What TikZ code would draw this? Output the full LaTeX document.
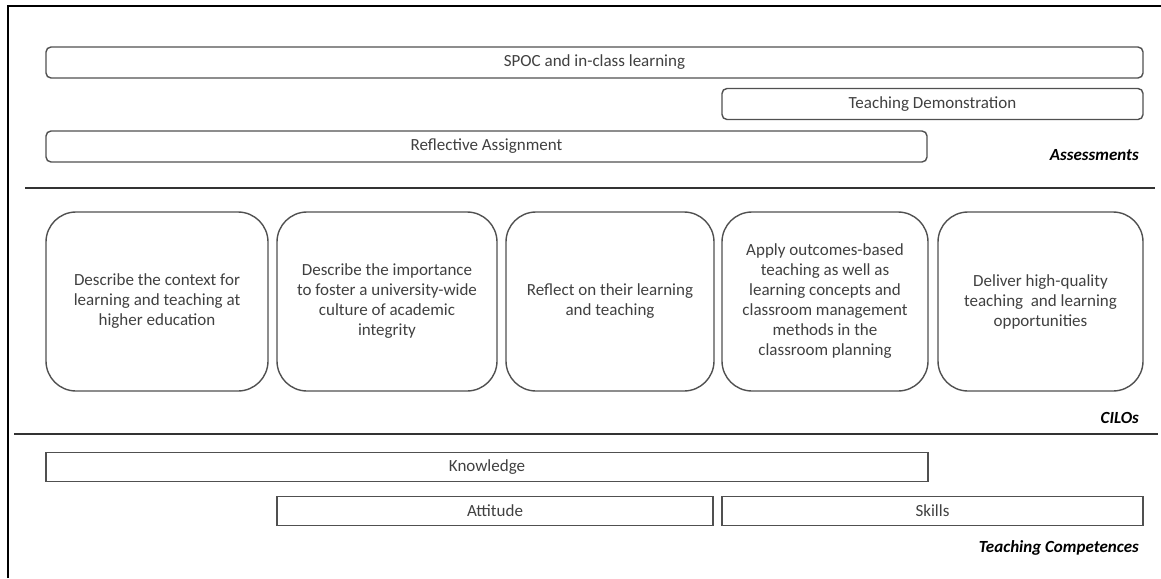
\documentclass[tikz,border=0pt]{standalone}
\usepackage{fontspec}
\setmainfont{Carlito}
\usepackage{tikz}
\usetikzlibrary{positioning}

\definecolor{edgegray}{HTML}{505050}
\definecolor{textgray}{HTML}{404040}

\begin{document}
\begin{tikzpicture}[
  x=1pt, y=-1pt,
  font=\fontsize{17}{20}\selectfont,
  bar/.style={draw=edgegray, line width=1.4pt, rounded corners=5pt, minimum height=31pt, inner sep=0pt, text=textgray},
  flatbar/.style={draw=edgegray, line width=1.4pt, minimum height=29pt, inner sep=0pt, text=textgray},
  cilo/.style={draw=edgegray, line width=1.4pt, rounded corners=30pt, minimum height=179pt, inner sep=0pt, align=center, text=textgray},
  tag/.style={anchor=east, inner sep=0pt, font=\fontsize{17}{20}\selectfont\bfseries\itshape},
  divider/.style={line width=2pt, draw=black!80},
]
\useasboundingbox (0,0) rectangle (1161,578);
% outer frame (only top and left edges fall inside the page)
\draw[line width=2pt] (7.5,578) -- (7.5,6.5) -- (1161,6.5);

% assessments
\node[bar, minimum width=1097pt] (spoc) at (594.5,62.5) {SPOC and in-class learning};
\node[bar, minimum width=421pt] (demo) at (932.5,104) {Teaching Demonstration};
\node[bar, minimum width=881pt] (refl) at (486.5,146.5) {Reflective Assignment};
\node[tag] (assess) at (1139,155) {Assessments};

\coordinate (d1a) at (25,187.5);
\coordinate (d1b) at (1155,187.5);
\draw[divider] (d1a) -- (d1b);

% CILOs
\node[cilo, minimum width=222pt] (c1) at (157,301.5) {Describe the context for\\learning and teaching at\\higher education};
\node[cilo, minimum width=220pt] (c2) at (387,301.5) {Describe the importance\\to foster a university-wide\\culture of academic\\integrity};
\node[cilo, minimum width=208pt] (c3) at (610,301.5) {Reflect on their learning\\and teaching};
\node[cilo, minimum width=206pt] (c4) at (825,301.5) {Apply outcomes-based\\teaching as well as\\learning concepts and\\classroom management\\methods in the\\classroom planning};
\node[cilo, minimum width=205pt] (c5) at (1040.5,301.5) {Deliver high-quality\\teaching\ \ and learning\\opportunities};
\node[tag] (cilos) at (1139,418) {CILOs};

\coordinate (d2a) at (14,434);
\coordinate (d2b) at (1158,434);
\draw[divider] (d2a) -- (d2b);

% teaching competences
\node[flatbar, minimum width=882pt] (know) at (487,467) {Knowledge};
\node[flatbar, minimum width=436pt] (att) at (495,511) {Attitude};
\node[flatbar, minimum width=421pt] (skill) at (932.5,511) {Skills};
\node[tag] (comp) at (1139,548) {Teaching Competences};
\end{tikzpicture}
\end{document}
